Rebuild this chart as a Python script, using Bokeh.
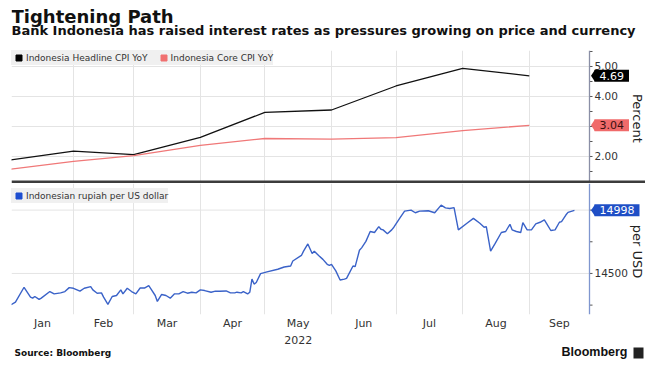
import numpy as np
import pandas as pd
from bokeh.plotting import figure
from bokeh.layouts import column
from bokeh.core.properties import value
from bokeh.models import (Range1d, FixedTicker, Grid, Legend, LegendItem, Label, Span,
                          PolyAnnotation, BoxAnnotation)
from bokeh.embed import file_html
from bokeh.resources import INLINE

# ---------------- data ----------------
cpi_dates = ["2022-01-01", "2022-02-01", "2022-03-01", "2022-04-01", "2022-05-01",
             "2022-06-01", "2022-07-01", "2022-08-01", "2022-09-01"]
cpi_headline = [1.87, 2.18, 2.06, 2.64, 3.47, 3.55, 4.35, 4.94, 4.69]
cpi_core = [1.56, 1.84, 2.03, 2.37, 2.60, 2.58, 2.63, 2.86, 3.04]

fx_dates = [
    "01-03", "01-05", "01-09", "01-12", "01-13", "01-14", "01-16", "01-17", "01-21", "01-23",
    "01-26", "01-28", "01-30", "02-01", "02-04", "02-06", "02-09", "02-10", "02-12", "02-14",
    "02-15", "02-17", "02-19", "02-21", "02-23", "02-24", "02-26", "02-28", "03-02", "03-04",
    "03-06", "03-08", "03-09", "03-11", "03-12", "03-14", "03-16", "03-18", "03-20", "03-22",
    "03-24", "03-26", "03-28", "03-30", "04-01", "04-03", "04-06", "04-08", "04-10", "04-13",
    "04-15", "04-17", "04-18", "04-20", "04-21", "04-23", "04-24", "04-25", "04-26", "04-27",
    "04-29", "05-02", "05-07", "05-10", "05-13", "05-14", "05-18", "05-19", "05-21", "05-23",
    "05-24", "05-26", "05-28", "05-30", "05-31", "06-01", "06-03", "06-05", "06-07", "06-08",
    "06-11", "06-12", "06-14", "06-15", "06-17", "06-19", "06-21", "06-23", "06-24", "06-25",
    "06-27", "06-29", "06-30", "07-03", "07-05", "07-08", "07-10", "07-12", "07-16", "07-19",
    "07-22", "07-24", "07-26", "07-28", "07-30", "08-03", "08-06", "08-09", "08-11", "08-12",
    "08-14", "08-16", "08-19", "08-21", "08-23", "08-24", "08-26", "08-28", "08-29", "08-31",
    "09-02", "09-04", "09-06", "09-08", "09-09", "09-11", "09-13", "09-15", "09-16", "09-18",
    "09-19", "09-22"]
fx_values = [
    14253, 14274, 14391, 14313, 14305, 14318, 14295, 14305, 14357, 14339,
    14347, 14357, 14388, 14383, 14360, 14383, 14396, 14370, 14344, 14347,
    14313, 14256, 14318, 14326, 14370, 14339, 14383, 14357, 14339, 14385,
    14385, 14404, 14378, 14326, 14279, 14334, 14326, 14305, 14339, 14339,
    14357, 14344, 14352, 14347, 14370, 14365, 14352, 14360, 14360, 14362,
    14347, 14347, 14352, 14347, 14357, 14339, 14352, 14455, 14416, 14429,
    14499, 14512, 14533, 14551, 14559, 14598, 14642, 14676, 14733, 14658,
    14676, 14642, 14611, 14572, 14564, 14572, 14520, 14448, 14455, 14461,
    14559, 14554, 14683, 14702, 14753, 14831, 14823, 14870, 14849, 14844,
    14813, 14844, 14865, 14943, 14992, 15000, 14979, 14992, 14995, 14979,
    15039, 15018, 15013, 15020, 14844, 14896, 14935, 14896, 14865, 14870,
    14676, 14733, 14823, 14831, 14888, 14844, 14831, 14823, 14901, 14844,
    14844, 14891, 14904, 14922, 14896, 14839, 14844, 14904, 14909, 14961,
    14982, 14998]

month_names = ["Jan", "Feb", "Mar", "Apr", "May", "Jun", "Jul", "Aug", "Sep"]
year_label = "2022"
month_starts = ["2022-01-01", "2022-02-01", "2022-03-01", "2022-04-01", "2022-05-01",
                "2022-06-01", "2022-07-01", "2022-08-01", "2022-09-01", "2022-10-01"]
cpi_ticks = [2, 3, 4, 5]
cpi_minor = [1.5, 2.5, 3.5, 4.5, 5.5]
fx_ticks = [14500, 15000]
fx_minor = [14250, 14750]

legend_cpi = ["Indonesia Headline CPI YoY", "Indonesia Core CPI YoY"]
legend_fx = "Indonesian rupiah per US dollar"
title_text = "Tightening Path"
subtitle_text = "Bank Indonesia has raised interest rates as pressures growing on price and currency"
source_text = "Source: Bloomberg"
brand_text = "Bloomberg"

# ---------------- helpers ----------------
BASE = pd.Timestamp("2022-01-01")


def to_day(ds):
    return [float((pd.Timestamp(d) - BASE) / pd.Timedelta(days=1)) for d in ds]


cpi_x = to_day(cpi_dates)
fx_x = to_day(["2022-" + d for d in fx_dates])
ms_x = to_day(month_starts)

# plot frame: 11px .. 589px is the data area; 589 .. 645 holds the value axis
X0, X1 = 2.16, 271.0
DX = (X1 - X0) / 578.0          # days per pixel
XE = X1 + 56 * DX
xr = Range1d(X0, XE)
mid_x = [(max(a, X0) + min(b, X1)) / 2 for a, b in zip(ms_x[:-1], ms_x[1:])]
month_label_map = {m: n for m, n in zip(mid_x, month_names)}
grid_x = [m for m in ms_x if X0 < m < X1]

W = 645
LB = 11
FONT = "DejaVu Sans"
GRID = "#e4e4e4"
TXT = "#333333"


def hide_grids(f):
    for r in list(f.center):
        if isinstance(r, Grid):
            r.visible = False


def blank(h, xrange):
    f = figure(width=W, height=h, x_range=xrange, y_range=Range1d(h, 0),
               toolbar_location=None, output_backend="svg", min_border_left=LB,
               min_border_right=0, min_border_top=0, min_border_bottom=0,
               x_axis_location=None, y_axis_location=None, outline_line_color=None,
               background_fill_color="white", border_fill_color="white")
    hide_grids(f)
    return f


def value_axis(p, ticks, minor, labels, axis_color, title, title_y):
    # axis line, ticks, tick labels and axis title placed in the frame's right strip
    p.add_layout(Span(location=X1, dimension="height", line_color=axis_color, line_width=1.3))
    allt = list(ticks) + list(minor)
    p.segment(x0=[X1] * len(allt), y0=allt, x1=[X1 + 3 * DX] * len(allt), y1=allt,
              line_color="#555555", line_width=1)
    p.text(x=[X1 + 5 * DX] * len(ticks), y=ticks, text=labels, text_font=value(FONT),
           text_font_size="10.5px", text_color=TXT, text_align="left", text_baseline="middle")
    p.text(x=[X1 + 48 * DX], y=[title_y], text=[title], text_font=value(FONT),
           text_font_size="13px", text_color="#222222", text_align="center",
           text_baseline="middle", angle=-np.pi / 2)
    p.segment(x0=[X0] * len(ticks), y0=ticks, x1=[X1] * len(ticks), y1=ticks,
              line_color=GRID, line_width=1, level="underlay")


def value_tag(p, y, text, fill, tcolor, ypx):
    p.add_layout(PolyAnnotation(xs=[X1 + 1.5 * DX, X1 + 5.5 * DX, X1 + 5.5 * DX],
                                ys=[y, y + 6 * ypx, y - 6 * ypx],
                                fill_color=fill, fill_alpha=1, line_color=None))
    p.add_layout(Label(x=X1, y=y, x_offset=5, text=text, text_font=FONT, text_font_size="11px",
                       text_color=tcolor, text_align="left", text_baseline="middle",
                       background_fill_color=fill, background_fill_alpha=1,
                       padding=(5, 2)))


# ---------------- header ----------------
hdr = blank(50, Range1d(0, W - LB))
hdr.add_layout(Label(x=0, y=15.5, text=title_text, text_font=FONT, text_font_size="18px",
                     text_font_style="bold", text_baseline="middle", text_color="#111111"))
hdr.add_layout(Label(x=0, y=30, text=subtitle_text, text_font=FONT, text_font_size="13px",
                     text_font_style="bold", text_baseline="middle", text_color="#111111"))

# ---------------- top panel ----------------
Y1_0, Y1_1 = 1.1, 5.533
P1Y = 1 / 30.0
p1 = figure(width=W, height=133, x_range=xr, y_range=Range1d(Y1_0, Y1_1),
            x_axis_location=None, y_axis_location=None,
            min_border_left=LB, min_border_right=0, min_border_top=0, min_border_bottom=0,
            toolbar_location=None, output_backend="svg", outline_line_color=None,
            background_fill_color="white", border_fill_color="white")
hide_grids(p1)
p1.add_layout(Grid(dimension=0, ticker=FixedTicker(ticks=grid_x), grid_line_color=GRID))
value_axis(p1, cpi_ticks, cpi_minor, ["%.2f" % t for t in cpi_ticks], "#8a8fa6",
           "Percent", 3.27)

p1.line(cpi_x, cpi_headline, line_color="#111111", line_width=1.3)
p1.line(cpi_x, cpi_core, line_color="#f07878", line_width=1.3)
s1 = p1.scatter([np.nan], [np.nan], marker="square", size=6, color="#000000")
s2 = p1.scatter([np.nan], [np.nan], marker="square", size=6, color="#f07070")

leg1 = Legend(items=[LegendItem(label=legend_cpi[0], renderers=[s1]),
                     LegendItem(label=legend_cpi[1], renderers=[s2])],
              location="top_left", orientation="horizontal", margin=0, padding=1,
              spacing=8, glyph_width=15, glyph_height=15, label_height=15,
              label_standoff=0, label_text_font=FONT, label_text_font_size="9px",
              label_text_color=TXT, background_fill_color="#f0f0f0",
              background_fill_alpha=1, border_line_color=None)
p1.add_layout(leg1)
value_tag(p1, cpi_headline[-1], "%.2f" % cpi_headline[-1], "#000000", "white", P1Y)
value_tag(p1, cpi_core[-1], "%.2f" % cpi_core[-1], "#f06a6a", "#3a1010", P1Y)
# dark divider along the bottom of the top panel
p1.add_layout(BoxAnnotation(left=X0, right=XE, bottom=Y1_0, top=Y1_0 + 3 * P1Y,
                            fill_color="#3c3c3c", fill_alpha=1, line_color=None))

# ---------------- bottom panel ----------------
Y2_0, Y2_1 = 14176, 15210
P2Y = (Y2_1 - Y2_0) / 133.0
p2 = figure(width=W, height=149, x_range=xr, y_range=Range1d(Y2_0, Y2_1),
            x_axis_location="below", y_axis_location=None,
            min_border_left=LB, min_border_right=0, min_border_top=0, min_border_bottom=16,
            toolbar_location=None, output_backend="svg", outline_line_color=None,
            background_fill_color="white", border_fill_color="white")
hide_grids(p2)
xa = p2.xaxis[0]
xa.ticker = FixedTicker(ticks=mid_x, minor_ticks=[])
xa.major_label_overrides = month_label_map
xa.axis_line_color = None
xa.major_tick_line_color = None
xa.minor_tick_line_color = None
xa.major_tick_out = 0
xa.major_tick_in = 0
xa.major_label_standoff = 2
xa.major_label_text_font = FONT
xa.major_label_text_font_size = "11px"
xa.major_label_text_color = TXT
p2.add_layout(Grid(dimension=0, ticker=FixedTicker(ticks=grid_x), grid_line_color=GRID))
value_axis(p2, fx_ticks, fx_minor, ["%d" % t for t in fx_ticks], "#7f96cf",
           "per USD", 14673)

p2.line(fx_x, fx_values, line_color="#3a62c8", line_width=1.4)
s3 = p2.scatter([np.nan], [np.nan], marker="square", size=6, color="#1f4fd0")
leg2 = Legend(items=[LegendItem(label=legend_fx, renderers=[s3])],
              location=(0, 133 - 3 - 19), orientation="horizontal", margin=0, padding=2,
              spacing=8, glyph_width=15, glyph_height=15, label_height=15,
              label_standoff=0, label_text_font=FONT, label_text_font_size="9px",
              label_text_color=TXT, background_fill_color="#f0f0f0",
              background_fill_alpha=1, border_line_color=None)
p2.add_layout(leg2)
value_tag(p2, fx_values[-1], "%d" % fx_values[-1], "#1f4fc6", "white", P2Y)

# ---------------- footer ----------------
ftr = blank(34, xr)
ftr.extra_x_ranges = {"px": Range1d(0, W - LB)}
may_x = mid_x[month_names.index("May")]
ftr.add_layout(Label(x=may_x, y=7, text=year_label, text_font=FONT, text_font_size="11px",
                     text_align="center", text_baseline="middle", text_color=TXT))
ftr.add_layout(Label(x=3, y=20, x_range_name="px", text=source_text, text_font=FONT,
                     text_font_size="9px", text_font_style="bold", text_baseline="middle",
                     text_color="#111111"))
ftr.add_layout(Label(x=616, y=19, x_range_name="px", text=brand_text,
                     text_font="Liberation Sans", text_font_size="12.5px",
                     text_font_style="bold", text_align="right", text_baseline="middle",
                     text_color="#111111"))
ftr.add_layout(BoxAnnotation(left=622, right=632, top=15, bottom=26, x_range_name="px",
                             fill_color="#222222", fill_alpha=1, line_color=None))

layout = column(hdr, p1, p2, ftr, spacing=0)
open("out.html", "w").write(file_html(layout, INLINE))
